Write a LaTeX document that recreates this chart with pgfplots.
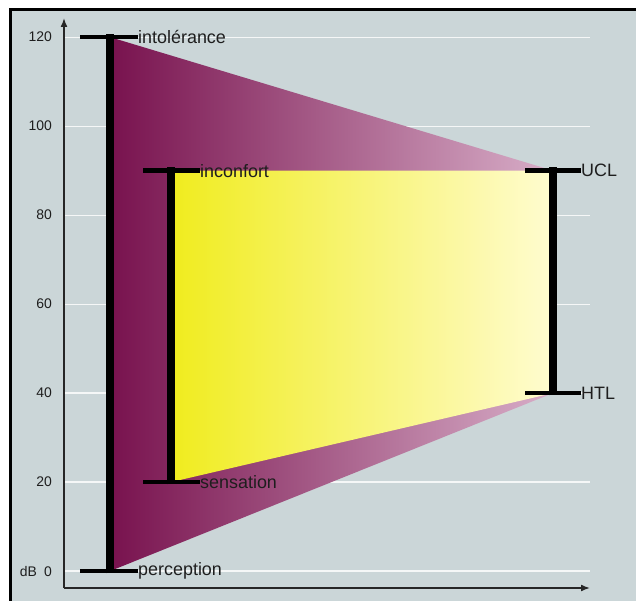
\documentclass[border=0pt]{standalone}
\usepackage{pgfplots}
\pgfplotsset{compat=1.18}
\usetikzlibrary{arrows.meta}
\usepackage{fontspec}
\setmainfont{Liberation Sans}
\definecolor{bg}{RGB}{203,214,216}
\definecolor{purpA}{RGB}{120,18,78}
\definecolor{purpB}{RGB}{216,174,200}
\definecolor{yelA}{RGB}{240,236,30}
\definecolor{yelB}{RGB}{255,252,208}
\definecolor{txt}{RGB}{30,30,30}
\begin{document}
\begin{tikzpicture}[x=1bp,y=1bp]
\fill[white] (0,0) rectangle (636,601);
\fill[bg] (10,0) rectangle (636,591);
\draw[black, line width=3bp] (10,0) -- (10,591) -- (636,591);
\begin{axis}[
  at={(64bp,13bp)}, anchor=south west,
  scale only axis, width=526bp, height=570bp,
  xmin=64, xmax=590, ymin=-3.8, ymax=124.3,
  axis x line=bottom, axis y line=left,
  axis line style={line width=1.6bp, black!85, -{Latex[length=9bp,width=7bp]}},
  xtick=\empty,
  ytick={0,20,40,60,80,100,120},
  yticklabels={dB\hspace{7bp}0,20,40,60,80,100,120},
  major tick length=0pt,
  yticklabel style={font=\fontsize{14}{14}\selectfont, text=txt, inner sep=0pt, xshift=-12bp},
  ymajorgrids, grid style={white!80!bg, line width=1.2bp},
  clip=false,
  /pgf/number format/assume math mode=true,
]
% purple trapezoid
\addplot[draw=none, left color=purpA, right color=purpB] coordinates {(110,0) (553,40) (553,90) (110,120)};
% yellow area
\addplot[draw=none, left color=yelA, right color=yelB] coordinates {(171,20) (553,40) (553,90) (171,90)};
% bars
\addplot[black, line width=7.5bp] coordinates {(110,-0.5) (110,120.8)};
\addplot[black, line width=7.5bp] coordinates {(171,19.5) (171,90.8)};
\addplot[black, line width=7.5bp] coordinates {(553,39.5) (553,90.8)};
% horizontal ticks
\addplot[black, line width=4.5bp] coordinates {(80,120) (138,120)};
\addplot[black, line width=4.5bp] coordinates {(80,0) (138,0)};
\addplot[black, line width=4.5bp] coordinates {(143,90) (200,90)};
\addplot[black, line width=4.5bp] coordinates {(143,20) (200,20)};
\addplot[black, line width=4.5bp] coordinates {(525,90) (581,90)};
\addplot[black, line width=4.5bp] coordinates {(525,40) (581,40)};
% labels
\node[anchor=west, inner sep=0pt, text=txt, font=\fontsize{18}{18}\selectfont] at (axis cs:138,120) {intolérance};
\node[anchor=west, inner sep=0pt, text=txt, font=\fontsize{18}{18}\selectfont] at (axis cs:138,0) {perception};
\node[anchor=west, inner sep=0pt, text=txt, font=\fontsize{18}{18}\selectfont] at (axis cs:200,90) {inconfort};
\node[anchor=west, inner sep=0pt, text=txt, font=\fontsize{18}{18}\selectfont] at (axis cs:200,20) {sensation};
\node[anchor=west, inner sep=0pt, text=txt, font=\fontsize{18}{18}\selectfont] at (axis cs:581,90) {UCL};
\node[anchor=west, inner sep=0pt, text=txt, font=\fontsize{18}{18}\selectfont] at (axis cs:581,40) {HTL};
\end{axis}
\pgfresetboundingbox
\path (0,0) rectangle (636,601);
\end{tikzpicture}
\end{document}
